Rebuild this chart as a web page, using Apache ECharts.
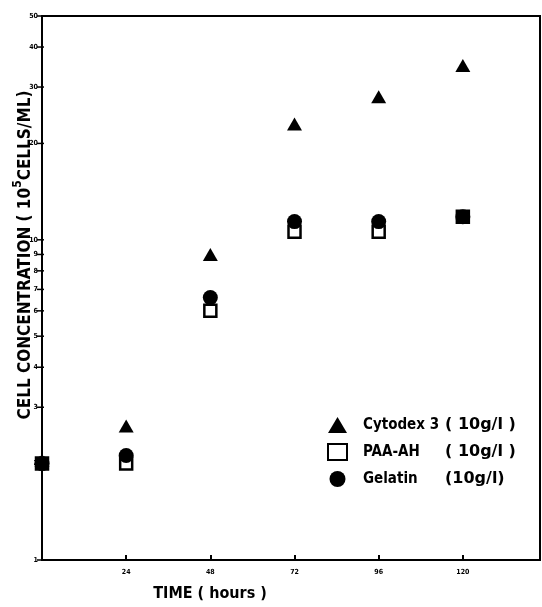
<!DOCTYPE html>
<html>
<head>
<meta charset="utf-8">
<script src="https://cdn.jsdelivr.net/npm/echarts@6/dist/echarts.min.js"></script>
<style>
html,body{margin:0;padding:0;background:#fff;}
#c{width:542px;height:607px;}
</style>
</head>
<body>
<div id="c"></div>
<script>
// ---- data ----
const hours = [0, 24, 48, 72, 96, 120];
const cytodex = [2.05, 2.62, 9.0, 23.0, 28.0, 35.0];
const paaAh = [2.0, 2.0, 6.0, 10.6, 10.6, 11.8];
const gelatin = [2.0, 2.12, 6.6, 11.4, 11.4, 11.8];
const seriesNames = ['Cytodex 3', 'PAA-AH', 'Gelatin'];
const doses = ['( 10g/l )', '( 10g/l )', '(10g/l)'];
const xTicks = [24, 48, 72, 96, 120];
const yTicks = [1, 2, 3, 4, 5, 6, 7, 8, 9, 10, 20, 30, 40, 50];

const FONT = '"DejaVu Sans Condensed","DejaVu Sans",sans-serif';
const FONT_W = '"DejaVu Sans",sans-serif';
const pair = (ys) => hours.map((h, i) => [h, ys[i]]);

const chart = echarts.init(document.getElementById('c'), null, {renderer: 'canvas'});
const option = {
  animation: false,
  backgroundColor: '#fff',
  grid: {left: 42, right: 2, top: 16, bottom: 46, show: true, borderColor: '#000', borderWidth: 2, backgroundColor: 'transparent'},
  legend: {
    data: seriesNames,
    orient: 'vertical',
    left: 322, top: 412,
    itemWidth: 19, itemHeight: 16, itemGap: 10,
    selectedMode: false,
    formatter: (name) => '{n|' + name + '}{u|' + doses[seriesNames.indexOf(name)] + '}',
    textStyle: {
      color: '#000', fontFamily: FONT, fontWeight: 'bold', fontSize: 15,
      padding: [0, 0, 0, 11],
      rich: {
        n: {width: 82, color: '#000', fontFamily: FONT, fontWeight: 'bold', fontSize: 15},
        u: {color: '#000', fontFamily: FONT_W, fontWeight: 'bold', fontSize: 16}
      }
    }
  },
  xAxis: {
    type: 'value', min: 0, max: 142,
    axisLine: {onZero: false, lineStyle: {color: '#000', width: 2}},
    axisTick: {show: true, inside: true, length: 5, customValues: xTicks, lineStyle: {color: '#000', width: 2}},
    axisLabel: {customValues: xTicks, fontSize: 7, fontWeight: 'bold', color: '#000', margin: 9, fontFamily: FONT},
    splitLine: {show: false},
    name: 'TIME ( hours )',
    nameLocation: 'middle',
    nameGap: 26,
    nameTextStyle: {color: '#000', fontFamily: FONT, fontWeight: 'bold', fontSize: 16, padding: [0, 162, 0, 0]}
  },
  yAxis: {
    type: 'log', logBase: 10, min: 1, max: 50,
    axisLine: {show: true, onZero: false, lineStyle: {color: '#000', width: 2}},
    axisTick: {show: false},
    axisLabel: {show: false},
    splitLine: {show: false},
    name: '{a|CELL CONCENTRATION ( 10}{s|5}{a|CELLS/ML)}',
    nameLocation: 'middle',
    nameRotate: 90,
    nameGap: 8,
    nameTextStyle: {
      color: '#000', fontFamily: FONT, fontWeight: 'bold', fontSize: 17,
      padding: [0, 0, 0, 66],
      rich: {
        a: {color: '#000', fontFamily: FONT, fontWeight: 'bold', fontSize: 17, lineHeight: 22, verticalAlign: 'bottom'},
        s: {color: '#000', fontFamily: FONT, fontWeight: 'bold', fontSize: 12, lineHeight: 22, verticalAlign: 'top'}
      }
    }
  },
  series: [
    {
      type: 'custom', name: 'yticks', silent: true, clip: false, z: 5,
      data: yTicks.map(v => [0, v]),
      renderItem: (params, api) => {
        const p = api.coord([api.value(0), api.value(1)]);
        return {
          type: 'group',
          children: [
            {type: 'line', shape: {x1: p[0] - 5, y1: p[1], x2: p[0] + 2, y2: p[1]}, style: {stroke: '#000', lineWidth: 1.5}},
            {type: 'text', x: p[0] - 4, y: p[1], style: {text: String(api.value(1)), align: 'right', verticalAlign: 'middle', font: 'bold 7px ' + FONT, fill: '#000'}}
          ]
        };
      }
    },
    {
      type: 'scatter', name: seriesNames[0], z: 3,
      symbol: 'triangle', symbolSize: [15, 13],
      itemStyle: {color: '#000', opacity: 1},
      emphasis: {disabled: true},
      data: pair(cytodex)
    },
    {
      type: 'scatter', name: seriesNames[1], z: 3,
      symbol: 'rect', symbolSize: 12,
      itemStyle: {color: '#fff', borderColor: '#000', borderWidth: 2.5, opacity: 1},
      emphasis: {disabled: true},
      data: pair(paaAh)
    },
    {
      type: 'scatter', name: seriesNames[2], z: 4,
      symbol: 'circle', symbolSize: 15,
      itemStyle: {color: '#000', opacity: 1},
      emphasis: {disabled: true},
      data: pair(gelatin)
    }
  ]
};
chart.setOption(option);
</script>
</body>
</html>
